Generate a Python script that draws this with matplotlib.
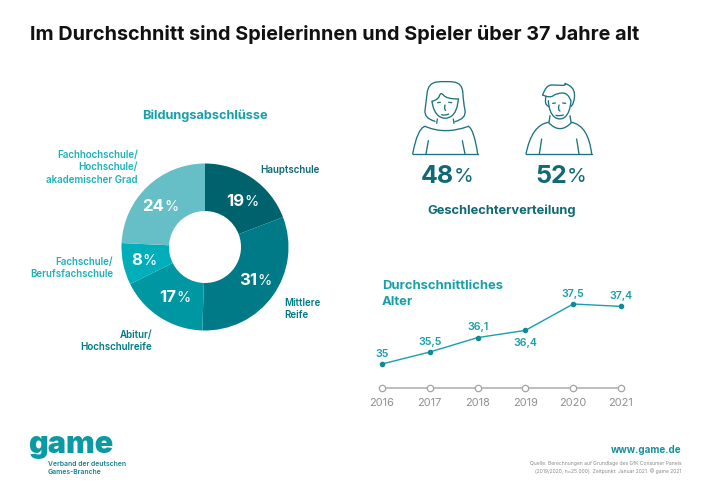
import matplotlib
matplotlib.use('Agg')
import matplotlib.pyplot as plt
from matplotlib.path import Path
from matplotlib.patches import PathPatch

plt.rcParams['font.family'] = ['Inter', 'Lato', 'DejaVu Sans']

# donut data
edu_labels = ['Hauptschule', 'Mittlere Reife', 'Abitur/Hochschulreife', 'Fachschule/Berufsfachschule', 'Fachhochschule/Hochschule/akademischer Grad']
edu_values = [19, 31, 17, 8, 24]
edu_colors = ['#00626d', '#007a87', '#0097a3', '#00aeb9', '#66bec6']

# line data
years = [2016, 2017, 2018, 2019, 2020, 2021]
age = [35, 35.5, 36.1, 36.4, 37.5, 37.4]
age_text = ['35', '35,5', '36,1', '36,4', '37,5', '37,4']
age_offset = [11, 11, 12, -12, 11, 11]

gender_values = [48, 52]

DARK = '#0f6a75'
TEAL = '#17a0aa'
LIGHT = '#1fb0ba'
W, H = 710, 502

fig = plt.figure(figsize=(W / 100, H / 100), dpi=100, facecolor='white')

# overlay in pixel coordinates for text and icons
bg = fig.add_axes([0, 0, 1, 1], zorder=5)
bg.set_xlim(0, W)
bg.set_ylim(H, 0)
bg.axis('off')


def label(x, y, s, size=7, color=TEAL, ha='left', weight='semibold'):
    bg.text(x, y, s, fontsize=size, color=color, ha=ha, va='center', fontweight=weight)


def pct(x, y, val, size, color, small):
    label(x, y, str(val), size, color, 'right', 'bold')
    label(x, y + 0.5, '%', small, color, 'left', 'normal')


def stroke(pts):
    # smooth line through zoomed coordinates of the icon sketch
    p = [(400 + a / 3, 70 + b / 3) for a, b in pts]
    verts = [p[0]]
    codes = [Path.MOVETO]
    for i in range(1, len(p) - 1):
        mid = ((p[i][0] + p[i + 1][0]) / 2, (p[i][1] + p[i + 1][1]) / 2)
        if i == len(p) - 2:
            mid = p[i + 1]
        verts += [p[i], mid]
        codes += [Path.CURVE3, Path.CURVE3]
    if len(p) == 2:
        verts.append(p[1])
        codes.append(Path.LINETO)
    bg.add_patch(PathPatch(Path(verts, codes), fill=False, ec='#1a7480', lw=0.95, capstyle='round', joinstyle='round'))


# woman
stroke([(105, 157), (72, 148), (78, 100), (85, 42), (135, 36), (187, 42), (190, 100), (200, 148), (165, 158)])
stroke([(96, 97), (115, 92), (122, 68), (140, 90), (175, 90)])
stroke([(96, 97), (100, 130), (135, 154), (172, 130), (175, 90)])
stroke([(112, 150), (110, 163)])
stroke([(160, 150), (162, 163)])
stroke([(75, 172), (52, 178), (38, 255)])
stroke([(205, 172), (222, 180), (233, 255)])
stroke([(75, 172), (135, 198), (205, 172)])
stroke([(38, 255), (233, 255)])
stroke([(85, 215), (78, 255)])
stroke([(187, 215), (195, 255)])
stroke([(113, 101), (121, 100)])
stroke([(146, 100), (155, 101)])
stroke([(135, 108), (132, 122), (137, 124)])
stroke([(125, 137), (135, 141), (146, 135)])
# man
stroke([(428, 78), (438, 48), (470, 48), (498, 50), (492, 40), (525, 60), (522, 105), (513, 112)])
stroke([(428, 78), (450, 88), (470, 72), (505, 72), (512, 95)])
stroke([(438, 82), (432, 108), (446, 112)])
stroke([(445, 95), (447, 132), (480, 156), (510, 132), (513, 95)])
stroke([(445, 160), (395, 168), (378, 255)])
stroke([(515, 160), (565, 170), (575, 255)])
stroke([(445, 160), (480, 198), (515, 160)])
stroke([(450, 140), (447, 160)])
stroke([(510, 140), (513, 160)])
stroke([(378, 255), (575, 255)])
stroke([(425, 210), (418, 255)])
stroke([(530, 210), (537, 255)])
stroke([(458, 103), (466, 102)])
stroke([(488, 102), (497, 103)])
stroke([(477, 108), (473, 124), (480, 126)])
stroke([(468, 139), (478, 142), (490, 138)])

# donut, axes box chosen so radius 1 is 83.5 px around (205, 248)
r = 83.5
ax = fig.add_axes([(205 - r) / W, 1 - (248 + r) / H, 2 * r / W, 2 * r / H])
ax.pie(edu_values, colors=edu_colors, startangle=90, counterclock=False, radius=1,
       wedgeprops=dict(width=1 - 36 / r, linewidth=0))
ax.set_xlim(-1, 1)
ax.set_ylim(-1, 1)

# line chart, axes box spans 2016..2021 and 34..37.5
lx = fig.add_axes([382 / W, 1 - 389 / H, (621 - 382) / W, (389 - 305) / H])
lx.set_xlim(2016, 2021)
lx.set_ylim(34, 37.5)
lx.axis('off')
lx.plot(years, [34] * len(years), color='#b9b9b9', lw=1.3, marker='o', ms=4.6, mfc='white', mec='#a5a5a5', mew=0.9, clip_on=False)
lx.plot(years, age, color=TEAL, lw=1.0, marker='o', ms=3, mfc='#108a94', mec='#108a94', clip_on=False)
for x, y, s, off in zip(years, age, age_text, age_offset):
    lx.annotate(s, (x, y), xytext=(0, off * 0.72), textcoords='offset points', ha='center', va='center',
                fontsize=7.7, color=TEAL, fontweight='semibold', annotation_clip=False)
for x in years:
    lx.annotate(str(x), (x, 34), xytext=(0, -10), textcoords='offset points', ha='center', va='center',
                fontsize=7.9, color='#8f8f8f', annotation_clip=False)

# texts
label(30, 35, 'Im Durchschnitt sind Spielerinnen und Spieler über 37 Jahre alt', 14.25, '#111111', 'left', 'bold')
label(205, 115.5, 'Bildungsabschlüsse', 9.2, TEAL, 'center', 'bold')
label(260, 170, 'Hauptschule', 7, DARK)
label(284, 303, 'Mittlere', 7, '#007a87')
label(284, 315, 'Reife', 7, '#007a87')
label(152, 335, 'Abitur/', 7, '#007a87', 'right')
label(152, 347, 'Hochschulreife', 7, '#007a87', 'right')
label(113, 262, 'Fachschule/', 7, LIGHT, 'right')
label(113, 274, 'Berufsfachschule', 7, LIGHT, 'right')
label(138, 155, 'Fachhochschule/', 7, LIGHT, 'right')
label(138, 167.5, 'Hochschule/', 7, LIGHT, 'right')
label(138, 180, 'akademischer Grad', 7, LIGHT, 'right')

pct(244, 202, edu_values[0], 12, 'white', 10.5)
pct(257, 281, edu_values[1], 12, 'white', 10.5)
pct(176, 298, edu_values[2], 12, 'white', 10.5)
pct(142, 261, edu_values[3], 12, 'white', 10.5)
pct(164, 207, edu_values[4], 12, 'white', 10.5)

pct(454, 177, gender_values[0], 18, DARK, 14.5)
pct(567, 177, gender_values[1], 18, DARK, 14.5)
label(502, 211, 'Geschlechterverteilung', 9.3, DARK, 'center', 'bold')

label(382, 286, 'Durchschnittliches', 9.4, TEAL, 'left', 'bold')
label(382, 302, 'Alter', 9.4, TEAL, 'left', 'bold')

label(28, 445, 'game', 22, '#0b9aa4', 'left', 'black')
label(48, 464, 'Verband der deutschen', 4.9, '#17808b')
label(48, 472.5, 'Games-Branche', 4.9, '#17808b')
label(681, 450, 'www.game.de', 7.1, '#17909b', 'right', 'bold')
label(681, 464, 'Quelle: Berechnungen auf Grundlage des GfK Consumer Panels', 3.6, '#8a8a8a', 'right', 'normal')
label(681, 471, '(2019/2020, n=25.000). Zeitpunkt: Januar 2021. © game 2021', 3.6, '#8a8a8a', 'right', 'normal')

fig.savefig('out.png', dpi=100)
